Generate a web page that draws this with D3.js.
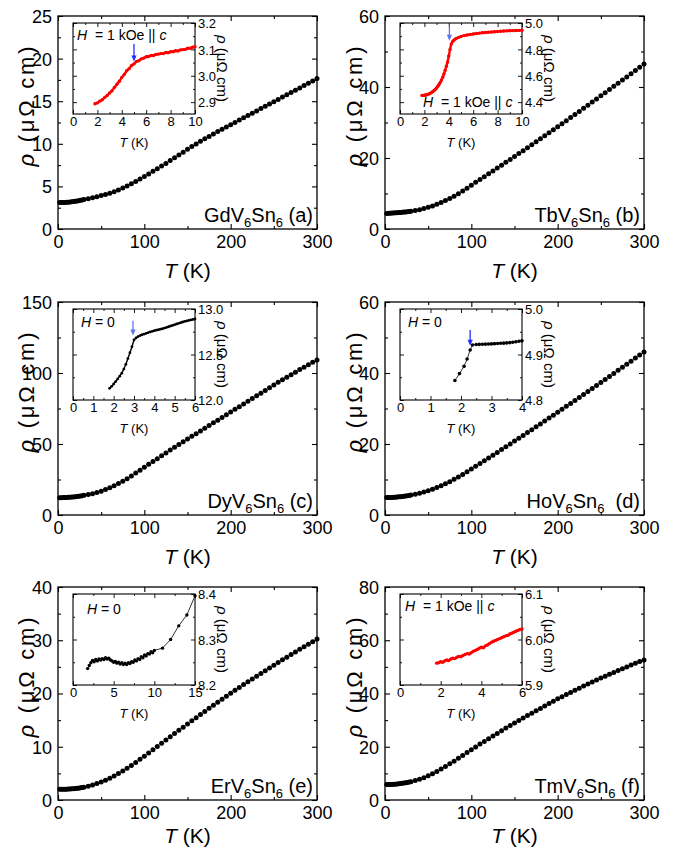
<!DOCTYPE html>
<html>
<head>
<meta charset="utf-8">
<script src="https://cdn.jsdelivr.net/npm/d3@7"></script>
<style>
  body { margin: 0; background: #fff; }
  svg { display: block; font-family: "Liberation Sans", Arial, sans-serif; }
  text { white-space: pre; }
</style>
</head>
<body>
<svg id="fig" width="673" height="851"></svg>
<script>
// ---------- data ----------
const compounds = ["Gd", "Tb", "Dy", "Ho", "Er", "Tm"];
const panelLetters = ["a", "b", "c", "d", "e", "f"];

// main curves: common temperature grid (K)
const mainT = [2,4,6,8,10,12,14,16,18,20,22,24,26,28,30,
  35,40,45,50,55,60,65,70,75,80,85,90,95,100,
  105,110,115,120,125,130,135,140,145,150,155,160,165,170,175,180,185,190,195,200,
  205,210,215,220,225,230,235,240,245,250,255,260,265,270,275,280,285,290,295,300];

const rhoGd = [3.10,3.10,3.11,3.12,3.13,3.15,3.17,3.19,3.22,3.25,3.28,3.32,3.36,3.40,3.45,
  3.56,3.67,3.79,3.92,4.06,4.21,4.38,4.58,4.80,5.04,5.30,5.57,5.86,6.15,
  6.46,6.77,7.08,7.39,7.70,8.03,8.36,8.69,9.02,9.35,9.67,9.99,10.29,10.58,10.87,11.15,11.43,11.70,11.97,12.24,
  12.51,12.78,13.05,13.32,13.59,13.86,14.13,14.40,14.67,14.94,15.21,15.48,15.75,16.02,16.29,16.56,16.83,17.10,17.38,17.66];
const rhoTb = [4.40,4.42,4.45,4.48,4.52,4.56,4.60,4.64,4.68,4.72,4.76,4.81,4.86,4.92,5.00,
  5.20,5.45,5.75,6.10,6.50,6.95,7.45,8.00,8.60,9.25,9.95,10.70,11.50,12.35,
  13.15,13.95,14.75,15.55,16.35,17.16,17.97,18.78,19.60,20.42,21.24,22.07,22.90,23.73,24.57,25.41,26.25,27.10,27.95,28.80,
  29.66,30.52,31.38,32.25,33.12,33.99,34.87,35.75,36.63,37.51,38.40,39.29,40.18,41.07,41.96,42.85,43.75,44.65,45.55,46.45];
const rhoDy = [12.20,12.22,12.25,12.30,12.36,12.43,12.51,12.60,12.70,12.82,12.96,13.12,13.32,13.60,13.95,
  14.4,15.0,15.8,16.8,17.9,19.2,20.6,22.1,23.8,25.6,27.5,29.5,31.6,33.7,
  35.7,37.7,39.7,41.7,43.7,45.7,47.7,49.7,51.6,53.5,55.4,57.3,59.2,61.1,63.0,64.9,66.8,68.7,70.6,72.5,
  74.4,76.3,78.2,80.1,82.0,83.9,85.8,87.7,89.6,91.5,93.4,95.2,97.0,98.8,100.6,102.4,104.1,105.8,107.5,109.2];
const rhoHo = [4.90,4.91,4.93,4.96,4.99,5.03,5.07,5.12,5.17,5.22,5.28,5.35,5.43,5.52,5.62,
  5.85,6.12,6.45,6.82,7.25,7.72,8.24,8.80,9.40,10.04,10.72,11.43,12.17,12.94,
  13.72,14.50,15.28,16.06,16.85,17.64,18.43,19.22,20.02,20.82,21.62,22.42,23.23,24.04,24.85,25.66,26.48,27.30,28.12,28.94,
  29.77,30.60,31.43,32.26,33.10,33.94,34.78,35.62,36.47,37.32,38.17,39.02,39.88,40.74,41.60,42.46,43.33,44.20,45.07,45.94];
const rhoEr = [2.00,2.00,2.01,2.02,2.03,2.05,2.07,2.09,2.12,2.15,2.19,2.23,2.28,2.34,2.41,
  2.60,2.82,3.08,3.38,3.72,4.10,4.52,4.97,5.45,5.96,6.49,7.05,7.63,8.22,
  8.83,9.44,10.05,10.66,11.27,11.88,12.48,13.08,13.68,14.28,14.87,15.46,16.05,16.63,17.21,17.79,18.36,18.93,19.50,20.06,
  20.60,21.14,21.67,22.20,22.73,23.25,23.77,24.29,24.80,25.31,25.82,26.32,26.82,27.32,27.81,28.30,28.78,29.26,29.74,30.22];
const rhoTm = [5.80,5.81,5.83,5.86,5.90,5.95,6.01,6.08,6.16,6.25,6.35,6.46,6.58,6.72,6.88,
  7.3,7.8,8.4,9.1,9.9,10.75,11.65,12.6,13.6,14.6,15.65,16.7,17.8,18.9,
  19.95,21.0,22.0,23.0,24.0,25.0,26.0,27.0,27.95,28.9,29.85,30.8,31.7,32.6,33.5,34.4,35.3,36.2,37.1,38.0,
  38.8,39.6,40.4,41.2,42.0,42.8,43.55,44.3,45.05,45.8,46.5,47.2,47.9,48.6,49.3,50.0,50.7,51.35,52.0,52.6];

const mainRho = [rhoGd, rhoTb, rhoDy, rhoHo, rhoEr, rhoTm];
const yMax = [25, 60, 150, 60, 40, 80];
const yTicks = [[0,5,10,15,20,25],[0,20,40,60],[0,50,100,150],[0,20,40,60],[0,10,20,30,40],[0,20,40,60,80]];
const xTicks = [0, 100, 200, 300];
const xMinorTicks = [50, 150, 250];

// insets
const insetGdT = [1.8,2.0,2.2,2.4,2.6,2.8,3.0,3.2,3.4,3.6,3.8,4.0,4.2,4.4,4.6,4.8,5.0,5.2,5.4,5.6,5.8,
  6.0,6.2,6.4,6.6,6.8,7.0,7.2,7.4,7.6,7.8,8.0,8.2,8.4,8.6,8.8,9.0,9.2,9.4,9.6,9.8,10.0];
const insetGdRho = [2.894,2.897,2.904,2.909,2.918,2.925,2.935,2.943,2.956,2.968,2.979,2.994,3.005,3.019,3.027,3.039,3.045,3.054,3.057,3.064,3.067,
  3.072,3.073,3.077,3.077,3.081,3.082,3.084,3.084,3.088,3.087,3.091,3.091,3.095,3.094,3.098,3.099,3.100,3.104,3.104,3.108,3.110];

const insetTbT = [1.8,1.9,2.0,2.1,2.2,2.3,2.4,2.5,2.6,2.7,2.8,2.9,3.0,3.1,3.2,3.3,3.4,3.5,3.6,3.7,3.8,3.9,4.0,4.1,4.2,4.3,4.4,4.5,4.6,
  4.8,5.0,5.25,5.5,5.75,6.0,6.25,6.5,6.75,7.0,7.25,7.5,7.75,8.0,8.25,8.5,8.75,9.0,9.25,9.5,9.75,10.0];
const insetTbRho = [4.451,4.451,4.452,4.454,4.456,4.459,4.463,4.468,4.474,4.481,4.489,4.498,4.508,4.520,4.534,4.550,4.568,4.589,4.613,4.641,4.672,4.705,4.750,4.800,4.840,4.858,4.868,4.876,4.882,
  4.891,4.898,4.904,4.909,4.913,4.917,4.920,4.923,4.926,4.928,4.930,4.932,4.934,4.936,4.937,4.939,4.940,4.941,4.942,4.943,4.944,4.945];

const insetDyT = [1.8,1.9,2.0,2.1,2.2,2.3,2.4,2.5,2.6,2.7,2.8,2.9,3.0,3.1,3.2,3.3,3.4,3.5,3.6,3.7,3.8,3.9,
  4.0,4.1,4.2,4.3,4.4,4.5,4.6,4.7,4.8,4.9,5.0,5.1,5.2,5.3,5.4,5.5,5.6,5.7,5.8,5.9,6.0];
const insetDyRho = [12.128,12.150,12.176,12.203,12.232,12.262,12.295,12.340,12.392,12.455,12.520,12.585,12.660,12.682,12.697,12.708,12.717,12.725,12.733,12.741,12.748,12.755,
  12.762,12.767,12.772,12.778,12.783,12.790,12.797,12.805,12.813,12.820,12.828,12.835,12.843,12.850,12.857,12.864,12.869,12.875,12.880,12.885,12.890];

const insetHoT = [1.8,1.95,2.1,2.2,2.3,2.38,2.5,2.6,2.7,2.8,2.9,3.0,3.1,3.2,3.3,3.4,3.5,3.6,3.7,3.8,3.9,4.0];
const insetHoRho = [4.843,4.858,4.874,4.890,4.910,4.921,4.922,4.9222,4.9225,4.9228,4.923,4.9233,4.9238,4.9242,4.9247,4.925,4.9255,4.926,4.927,4.928,4.929,4.930];

const insetErT = [1.8,2.0,2.2,2.4,2.6,2.8,3.0,3.2,3.4,3.6,3.8,4.0,4.2,4.4,4.6,4.8,5.0,5.2,5.4,5.6,5.8,
  6.0,6.2,6.4,6.6,6.8,7.0,7.2,7.4,7.6,7.8,8.0,8.2,8.4,8.6,8.8,9.0,9.2,9.4,9.6,9.8,10.0,11,12,13,14,15];
const insetErRho = [8.236,8.243,8.249,8.254,8.251,8.256,8.253,8.257,8.255,8.258,8.256,8.260,8.257,8.259,8.255,8.253,8.250,8.252,8.248,8.250,8.246,
  8.249,8.245,8.248,8.245,8.249,8.247,8.251,8.250,8.255,8.253,8.258,8.256,8.262,8.260,8.266,8.264,8.269,8.268,8.273,8.271,8.276,8.281,8.300,8.330,8.354,8.396];

const insetTmT = [1.8,1.9,2.0,2.1,2.2,2.3,2.4,2.5,2.6,2.7,2.8,2.9,3.0,3.1,3.2,3.3,3.4,3.5,3.6,3.7,3.8,3.9,
  4.0,4.1,4.2,4.3,4.4,4.5,4.6,4.7,4.8,4.9,5.0,5.1,5.2,5.3,5.4,5.5,5.6,5.7,5.8,5.9,6.0];
const insetTmRho = [5.948,5.949,5.951,5.950,5.953,5.955,5.954,5.957,5.959,5.958,5.961,5.963,5.962,5.965,5.967,5.969,5.968,5.971,5.974,5.976,5.978,5.981,
  5.983,5.982,5.986,5.988,5.991,5.994,5.996,5.998,6.000,6.002,6.004,6.006,6.008,6.009,6.012,6.014,6.016,6.018,6.020,6.022,6.023];

const insetT = [insetGdT, insetTbT, insetDyT, insetHoT, insetErT, insetTmT];
const insetRho = [insetGdRho, insetTbRho, insetDyRho, insetHoRho, insetErRho, insetTmRho];
const insetXMax = [10, 10, 6, 4, 15, 6];
const insetXTicks = [[0,2,4,6,8,10],[0,2,4,6,8,10],[0,1,2,3,4,5,6],[0,1,2,3,4],[0,5,10,15],[0,2,4,6]];
const insetYDomain = [[2.855,3.2],[4.31,5.0],[12.0,13.0],[4.8,5.0],[8.2,8.4],[5.9,6.1]];
const insetYTicks = [[2.9,3.0,3.1,3.2],[4.4,4.6,4.8,5.0],[12.0,12.5,13.0],[4.8,4.9,5.0],[8.2,8.3,8.4],[5.9,6.0,6.1]];
const insetField = ["1 kOe", "1 kOe", "0", "0", "0", "1 kOe"];

// transition arrows (T, rho at tail, rho at head)
const arrowT = [5.0, 4.05, 2.95, 2.3, null, null];
const arrowFrom = [3.12, 4.975, 12.87, 4.954, null, null];
const arrowTo = [3.054, 4.866, 12.71, 4.919, null, null];

// ---------- layout & style ----------
const W = 259, H = 213;
const colLeft = [58, 385], rowTop = [16, 302, 587];
const xTitleGap = [49, 49, 43];
const yTitleGap = [24, 23];
const IX = 15, IY = 7, IW = 122, IH = 91;
const insetStyle = [
  { color: "#ff0000", r: 1.7, lw: 2.4 },
  { color: "#ff0000", r: 1.7, lw: 2.4 },
  { color: "#000", r: 1.4, lw: 1.4 },
  { color: "#000", r: 1.8, lw: 0.8 },
  { color: "#000", r: 1.7, lw: 0.8 },
  { color: "#ff0000", r: 1.7, lw: 2.4 }
];
const arrowColor = ["#1f2fff", "#6272f0", "#6272f0", "#1f2fff"];
// field label position inside inset: [x, baseline]
const fieldAt = [[4, 17], [23, 84], [8, 18], [8, 18], [14, 20], [5, 17]];

const svg = d3.select("#fig");

function frameAxes(g, x, y, w, h, o) {
  const ax = (gen, vals, size, tx, ty, fmt) => {
    const a = g.append("g")
      .attr("transform", `translate(${tx},${ty})`)
      .call(gen.tickValues(vals).tickSize(-size).tickPadding(o.pad)
        .tickFormat(fmt || (() => "")));
    a.attr("font-family", null).attr("font-size", null);
    a.select(".domain").remove();
    a.selectAll("line").attr("stroke", "#000").attr("stroke-width", o.tw);
    a.selectAll("text").attr("font-size", o.font).attr("fill", "#000");
    return a;
  };
  ax(d3.axisBottom(x), o.xMajor, o.major, 0, h, o.xFmt);
  ax(d3.axisBottom(x), o.xMinor, o.minor, 0, h, null);
  ax(d3.axisTop(x), o.xMajor, o.major, 0, 0, null);
  ax(d3.axisTop(x), o.xMinor, o.minor, 0, 0, null);
  ax(d3.axisLeft(y), o.yMajor, o.major, 0, 0, o.ySide === "left" ? o.yFmt : null)
    .selectAll("text").attr("dy", "0.36em");
  ax(d3.axisLeft(y), o.yMinor, o.minor, 0, 0, null);
  ax(d3.axisRight(y), o.yMajor, o.major, w, 0, o.ySide === "right" ? o.yFmt : null)
    .selectAll("text").attr("dy", "0.36em");
  ax(d3.axisRight(y), o.yMinor, o.minor, w, 0, null);
  g.append("rect").attr("width", w).attr("height", h)
    .attr("fill", "none").attr("stroke", "#000").attr("stroke-width", o.sw);
}

function halfSteps(ticks) {
  return ticks.slice(1).map((v, k) => +((v + ticks[k]) / 2).toFixed(4));
}

function rhoTitle(sel, size, len) {
  sel.attr("font-size", size);
  if (len) sel.attr("textLength", len).attr("lengthAdjust", "spacing");
  sel.append("tspan").attr("font-style", "italic").text("ρ");
  sel.append("tspan").text(" (μΩ cm)");
}

function tTitle(sel, size) {
  sel.attr("font-size", size);
  sel.append("tspan").attr("font-style", "italic").text("T");
  sel.append("tspan").text(" (K)");
}

function drawPanel(i) {
  const col = i % 2, row = Math.floor(i / 2);
  const left = colLeft[col], top = rowTop[row];
  const g = svg.append("g").attr("transform", `translate(${left},${top})`);
  const x = d3.scaleLinear().domain([0, 300]).range([0, W]);
  const y = d3.scaleLinear().domain([0, yMax[i]]).range([H, 0]);

  frameAxes(g, x, y, W, H, {
    xMajor: xTicks, xMinor: xMinorTicks,
    yMajor: yTicks[i], yMinor: halfSteps(yTicks[i]),
    major: 5, minor: 3, pad: 6, font: 18, tw: 1.1, sw: 1.3,
    xFmt: d3.format("d"), yFmt: d3.format("d"), ySide: "left"
  });

  // main data
  g.append("g").selectAll("circle")
    .data(d3.zip(mainT, mainRho[i]))
    .join("circle")
    .attr("cx", d => x(d[0]))
    .attr("cy", d => y(d[1]))
    .attr("r", 2.5)
    .attr("fill", "#000");

  // axis titles
  g.append("text")
    .attr("transform", `translate(${-yTitleGap[col]},${H / 2 - 16}) rotate(-90)`)
    .attr("text-anchor", "middle")
    .call(rhoTitle, 22, 120);
  g.append("text")
    .attr("x", W / 2).attr("y", H + xTitleGap[row])
    .attr("text-anchor", "middle")
    .call(tTitle, 21);

  // compound label
  const lab = g.append("text")
    .attr("x", W - 4).attr("y", H - 7)
    .attr("text-anchor", "end")
    .attr("font-size", 20);
  lab.append("tspan").text(compounds[i] + "V");
  lab.append("tspan").attr("font-size", 13).attr("dy", 5).text("6");
  lab.append("tspan").attr("dy", -5).text("Sn");
  lab.append("tspan").attr("font-size", 13).attr("dy", 5).text("6");
  lab.append("tspan").attr("dy", -5).text((i === 3 ? "  (" : " (") + panelLetters[i] + ")");

  drawInset(g, i);
}

function drawInset(parent, i) {
  const g = parent.append("g").attr("transform", `translate(${IX},${IY})`);
  const x = d3.scaleLinear().domain([0, insetXMax[i]]).range([0, IW]);
  const y = d3.scaleLinear().domain(insetYDomain[i]).range([IH, 0]);
  const st = insetStyle[i];

  g.append("rect").attr("width", IW).attr("height", IH).attr("fill", "#fff");

  frameAxes(g, x, y, IW, IH, {
    xMajor: insetXTicks[i], xMinor: halfSteps(insetXTicks[i]),
    yMajor: insetYTicks[i], yMinor: halfSteps(insetYTicks[i]),
    major: 4, minor: 2, pad: 3, font: 13, tw: 0.9, sw: 1.1,
    xFmt: d3.format("d"), yFmt: d3.format(".1f"), ySide: "right"
  });

  const pts = d3.zip(insetT[i], insetRho[i]);
  g.append("path")
    .attr("d", d3.line().x(d => x(d[0])).y(d => y(d[1]))(pts))
    .attr("fill", "none")
    .attr("stroke", st.color)
    .attr("stroke-width", st.lw);
  g.append("g").selectAll("circle")
    .data(pts)
    .join("circle")
    .attr("cx", d => x(d[0]))
    .attr("cy", d => y(d[1]))
    .attr("r", st.r)
    .attr("fill", st.color);

  // arrow marking the transition
  if (arrowT[i] !== null) {
    const ax = x(arrowT[i]), y0 = y(arrowFrom[i]), y1 = y(arrowTo[i]);
    g.append("line")
      .attr("x1", ax).attr("x2", ax).attr("y1", y0).attr("y2", y1 - 5)
      .attr("stroke", arrowColor[i]).attr("stroke-width", 1.3);
    g.append("path")
      .attr("d", `M${ax - 2.6},${y1 - 6}L${ax + 2.6},${y1 - 6}L${ax},${y1}Z`)
      .attr("fill", arrowColor[i]);
  }

  // field label
  const f = g.append("text")
    .attr("x", fieldAt[i][0]).attr("y", fieldAt[i][1])
    .attr("font-size", 14);
  f.append("tspan").attr("font-style", "italic").text("H");
  if (insetField[i] === "0") {
    f.append("tspan").text(" = 0");
  } else {
    f.append("tspan").text("  = " + insetField[i] + " || ");
    f.append("tspan").attr("font-style", "italic").text("c");
  }

  // inset titles
  g.append("text")
    .attr("x", IW / 2).attr("y", IH + 33)
    .attr("text-anchor", "middle")
    .call(tTitle, 13);
  g.append("text")
    .attr("transform", `translate(${IW + 22},${IH / 2}) rotate(90)`)
    .attr("text-anchor", "middle")
    .call(rhoTitle, 15);
}

for (let i = 0; i < 6; i++) drawPanel(i);
</script>
</body>
</html>
